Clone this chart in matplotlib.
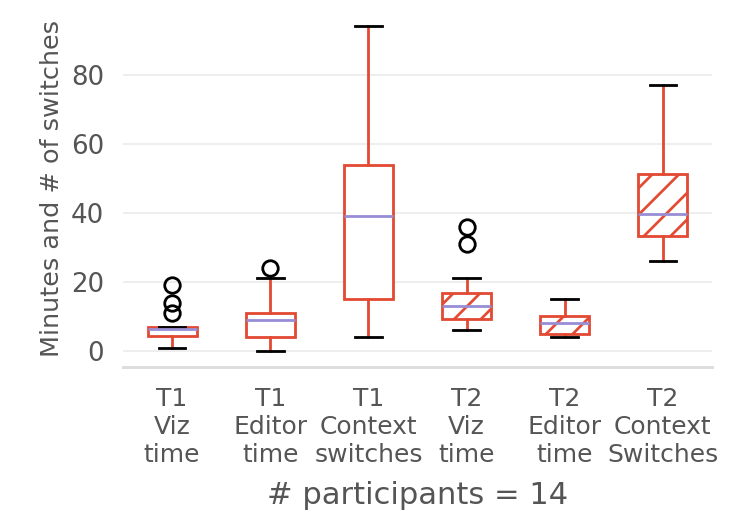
import matplotlib
matplotlib.use("Agg")
import matplotlib.pyplot as plt

# box stats
labels = ["T1\nViz\ntime", "T1\nEditor\ntime", "T1\nContext\nswitches",
          "T2\nViz\ntime", "T2\nEditor\ntime", "T2\nContext\nSwitches"]
whislo = [1, 0, 4, 6, 4, 26]
q1 = [4.4, 4, 15, 9.4, 5, 33.2]
med = [6.5, 9, 39, 13, 8, 39.6]
q3 = [7, 11, 54, 16.7, 10, 51.3]
whishi = [7, 21, 94, 21, 15, 77]
fliers = [[11, 14, 19], [24], [], [31, 36], [], []]
hatched = [False, False, False, True, True, True]

RED = "#E24A33"
PURPLE = "#988ED5"
GREY = "#555555"
DPI = 160
def pt(px):  # pixel size -> points at this dpi
    return px * 72 / DPI

stats = [dict(label=l, whislo=a, q1=b, med=c, q3=d, whishi=e, fliers=f)
         for l, a, b, c, d, e, f in zip(labels, whislo, q1, med, q3, whishi, fliers)]

plt.rcParams["hatch.linewidth"] = pt(2.7)
fig = plt.figure(figsize=(740 / DPI, 518 / DPI), dpi=DPI)
ax = fig.add_axes([123 / 740, 1 - 367.2 / 518, 589 / 740, 357 / 518])

lw = pt(2.8)
bp = ax.bxp(stats, widths=0.5, patch_artist=True, capwidths=0.27,
            boxprops=dict(facecolor="white", edgecolor=RED, linewidth=lw),
            whiskerprops=dict(color=RED, linewidth=lw),
            capprops=dict(color="black", linewidth=lw),
            medianprops=dict(color=PURPLE, linewidth=lw),
            flierprops=dict(marker="o", markerfacecolor="none", markeredgecolor="black",
                            markersize=pt(15.5), markeredgewidth=lw))
for box, h in zip(bp["boxes"], hatched):
    if h:
        box.set_hatch("//")

ax.set_ylim(-4.7, 98.7)
ax.set_xlim(0.5, 6.5)
ax.set_yticks([0, 20, 40, 60, 80])
ax.grid(axis="y", color="#EEEEEE", linewidth=pt(2))
ax.set_axisbelow(True)
for s in ["top", "right", "left"]:
    ax.spines[s].set_visible(False)
ax.spines["bottom"].set_color("#DDDDDD")
ax.spines["bottom"].set_linewidth(pt(3))
ax.tick_params(axis="y", length=0, pad=pt(19), labelsize=pt(26), labelcolor=GREY)
ax.tick_params(axis="x", length=0, pad=pt(20), labelsize=pt(25), labelcolor=GREY)

ax.set_ylabel("Minutes and # of switches", fontsize=pt(25.5), color=GREY)
ax.yaxis.set_label_coords(-0.100, 0.5)
ax.set_xlabel("# participants = 14", fontsize=pt(30.5), color=GREY)
ax.xaxis.set_label_coords(0.5, -0.318)

fig.savefig("out.png", dpi=DPI)
